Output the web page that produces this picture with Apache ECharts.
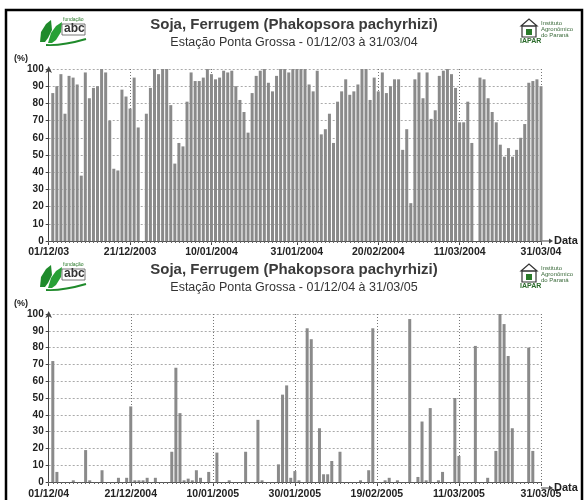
<!DOCTYPE html>
<html><head><meta charset="utf-8">
<script src="https://cdn.jsdelivr.net/npm/echarts@6/dist/echarts.min.js"></script>
<style>html,body{margin:0;padding:0;background:#fff}#c{width:587px;height:500px}</style>
</head><body><div id="c"></div>
<script>
const titleText = 'Soja, Ferrugem (Phakopsora pachyrhizi)';
const topSubtitle = 'Estação Ponta Grossa - 01/12/03 à 31/03/04';
const botSubtitle = 'Estação Ponta Grossa - 01/12/04 à 31/03/05';
const topTickIdx = [0,20,40,61,81,101,121];
const topTickLabels = ['01/12/03','21/12/2003','10/01/2004','31/01/2004','20/02/2004','11/03/2004','31/03/04'];
const botTickIdx = [0,20,40,60,80,100,120];
const botTickLabels = ['01/12/04','21/12/2004','10/01/2005','30/01/2005','19/02/2005','11/03/2005','31/03/05'];
const topDayCount = 122;
const botDayCount = 121;
const topValues = [
 0,86,90,97,74,96,95,91,38,98,
 83,89,90,100,98,70,42,41,88,84,
 77,95,66,0,74,89,100,97,100,100,
 79,45,57,55,81,98,93,93,95,100,
 97,94,95,99,98,99,90,82,75,63,
 86,96,99,100,92,87,96,100,100,98,
 100,100,100,100,91,87,99,62,65,74,
 57,81,87,94,85,87,91,100,100,82,
 95,87,98,86,90,94,94,53,65,22,
 94,98,83,98,71,76,96,99,100,97,
 89,69,69,81,57,0,95,94,83,75,
 69,56,49,54,49,53,60,68,92,93,
 94,90
];
const botValues = [
 0,72,6,0,0,0,1,0,0,19,
 1,0,0,7,0,0,0,2.5,0,2.5,
 45,1,1,1,2.5,0,2.5,0,0,0,
 18,68,41,1,2,1,7,2.5,0,6,
 0,17.5,0,0,1,0,0,0,18,0,
 0,37,1,0,0,0,10.5,52,57.5,2.5,
 6.5,1,0,91.5,85,0,32,4.6,4.6,12.5,
 0,18,0,0,0,0,1,0,7,91.5,
 0,0,1,2.5,0,1,0,0,97,0,
 3,36,1,44,0,1,6,0,0,50,
 15.5,0,0,0,81,0,0,2.5,0,18.5,
 100,94,75,32,0,0,0,80,18.5,0,
 0
];

const chart = echarts.init(document.getElementById('c'), null, {renderer:'canvas'});
const FONT = 'Liberation Sans, Arial, sans-serif';
const grids = [
  {left:48.7, right:46, top:69, height:172},
  {left:48.7, right:46, top:314, height:174}
];
const panels = [
  {n:topDayCount, idx:topTickIdx, labels:topTickLabels, vals:topValues},
  {n:botDayCount, idx:botTickIdx, labels:botTickLabels, vals:botValues}
];
const xAxes = [], yAxes = [], series = [];
panels.forEach((p, g) => {
  const cats = [];
  for (let i = 0; i < p.n; i++) cats.push(String(i));
  const isTick = (i) => p.idx.indexOf(i) >= 0;
  xAxes.push({
    type:'category', gridIndex:g, data:cats, boundaryGap:false,
    axisLine:{show:true, lineStyle:{color:'#555', width:1}},
    axisTick:{show:true, interval:(i)=>isTick(i), length:4, lineStyle:{color:'#444'}},
    axisLabel:{show:true, interval:(i)=>isTick(i), formatter:(v,i)=>p.labels[p.idx.indexOf(Number(v))] || '',
      fontFamily:FONT, fontWeight:'bold', fontSize:10.5, color:'#222', margin:g === 0 ? 6 : 7},
    splitLine:{show:true, interval:(i)=>isTick(i) && i>0, lineStyle:{color:'#777', type:[1,2], width:1}}
  });
  xAxes.push({
    type:'category', gridIndex:g, data:cats, boundaryGap:false, position:'bottom',
    axisLine:{show:false},
    axisTick:{show:true, interval:0, length:2, lineStyle:{color:'#666'}},
    axisLabel:{show:false}, splitLine:{show:false}
  });
  yAxes.push({
    type:'value', gridIndex:g, min:0, max:100, interval:10,
    axisLine:{show:true, lineStyle:{color:'#444', width:1}, symbol:['none','arrow'], symbolSize:[5,7], symbolOffset:[0,3]},
    axisTick:{show:true, length:3, lineStyle:{color:'#444'}},
    axisLabel:{fontFamily:FONT, fontWeight:'bold', fontSize:10, color:'#222', margin:5},
    splitLine:{show:true, lineStyle:{color:'#aaa', type:[2,2], width:1}}
  });
  series.push({
    type:'bar', xAxisIndex:g*2, yAxisIndex:g, data:p.vals, barWidth:3, clip:false,
    itemStyle:{color:'#8a8a8a'}, silent:true
  });
});

function titleBlock(y0, sub) {
  return [
    {type:'text', x:294, y:y0, style:{text:titleText, font:'bold 15px '+FONT, fill:'#3a3a3a', textAlign:'center', textVerticalAlign:'middle'}},
    {type:'text', x:294, y:y0+18, style:{text:sub, font:'12.5px '+FONT, fill:'#333', textAlign:'center', textVerticalAlign:'middle'}}
  ];
}
function logos(dy) {
  return [
    {type:'polygon', shape:{points:[[40,42+dy],[41,32+dy],[46,24+dy],[51,20+dy],[52,30+dy],[48,38+dy],[45,42+dy]]}, style:{fill:'#1f8a2b'}},
    {type:'polygon', shape:{points:[[48,43+dy],[51,33+dy],[56,26+dy],[62,22+dy],[61,32+dy],[56,40+dy],[52,43+dy]]}, style:{fill:'#27a035'}},
    {type:'text', x:63, y:17+dy, style:{text:'fundação', font:'5px '+FONT, fill:'#2a7a2a'}},
    {type:'rect', shape:{x:62, y:24+dy, width:23, height:11}, style:{fill:'none', stroke:'#555', lineWidth:0.8}},
    {type:'text', x:64, y:23+dy, style:{text:'abc', font:'bold 12px '+FONT, fill:'#333'}},
    {type:'bezierCurve', shape:{x1:46, y1:45+dy, x2:86, y2:39+dy, cpx1:62, cpy1:46+dy}, style:{stroke:'#1f8a2b', lineWidth:2, fill:'none'}},
    {type:'polygon', shape:{points:[[521,26+dy],[529,19+dy],[537,26+dy]]}, style:{fill:'none', stroke:'#333', lineWidth:1.2}},
    {type:'rect', shape:{x:522, y:26+dy, width:14, height:11}, style:{fill:'none', stroke:'#333', lineWidth:1.2}},
    {type:'rect', shape:{x:526, y:29+dy, width:6, height:6}, style:{fill:'#2a7a2a'}},
    {type:'text', x:520, y:38+dy, style:{text:'IAPAR', font:'bold 7px '+FONT, fill:'#2a6a2a'}},
    {type:'text', x:541, y:20+dy, style:{text:'Instituto\nAgronômico\ndo Paraná', font:'6px '+FONT, fill:'#3a6a3a', lineHeight:6}}
  ];
}
function axisDecor(yAxis, yTop) {
  return [
    {type:'line', shape:{x1:541, y1:yAxis, x2:549, y2:yAxis}, style:{stroke:'#444', lineWidth:1}},
    {type:'polygon', shape:{points:[[549,yAxis-2.5],[553,yAxis],[549,yAxis+2.5]]}, style:{fill:'#444'}},
    {type:'text', x:554, y:yAxis-6, style:{text:'Data', font:'bold 11px '+FONT, fill:'#222'}},
    {type:'text', x:14, y:yTop-15, style:{text:'(%)', font:'bold 9px '+FONT, fill:'#222'}}
  ];
}
const graphics = [
  {type:'rect', shape:{x:6, y:10, width:576, height:495}, style:{fill:'none', stroke:'#000', lineWidth:2.5}, z:100},
  ...titleBlock(25, topSubtitle), ...titleBlock(270, botSubtitle),
  ...logos(0), ...logos(245),
  ...axisDecor(241, 69), ...axisDecor(488, 314)
];

chart.setOption({
  animation:false,
  backgroundColor:'#fff',
  grid:grids,
  xAxis:xAxes, yAxis:yAxes, series:series,
  graphic:graphics
});
</script></body></html>
